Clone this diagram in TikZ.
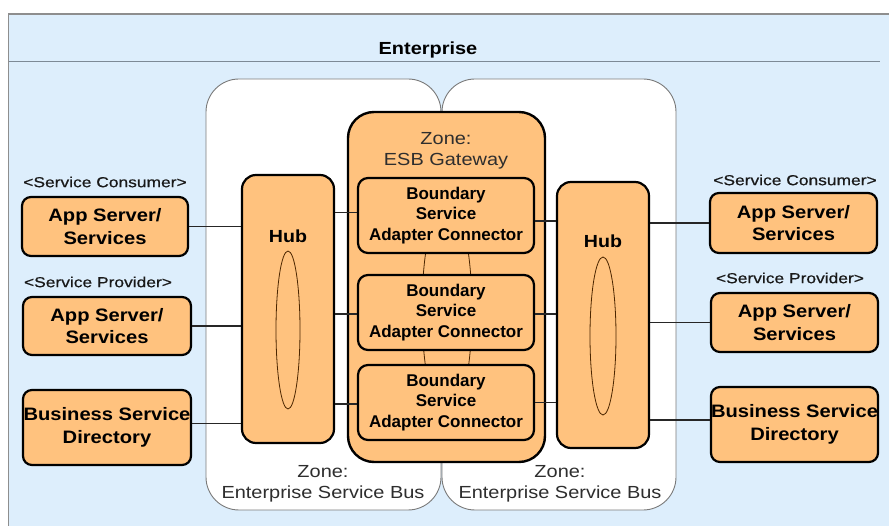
\documentclass[tikz,border=0pt]{standalone}
\usepackage{fontspec}
\setmainfont{Liberation Sans}
\newfontfamily\wfont{Liberation Sans}[FakeStretch=1.12]
\newfontfamily\wwfont{Liberation Sans}[FakeStretch=1.2,FakeBold=0.5]
\newfontfamily\zfont{Liberation Sans}[FakeStretch=1.14]
\definecolor{entblue}{HTML}{DDEEFC}
\definecolor{orfill}{HTML}{FFC27E}
\definecolor{framegrey}{HTML}{8E8E8E}
\definecolor{sepgrey}{HTML}{7D8A96}
\definecolor{zonegrey}{HTML}{7A7A7A}
\definecolor{txtgrey}{HTML}{2E2E2E}
\tikzset{
  orbox/.style={draw=black, line width=2.2pt, fill=orfill, rounded corners=9pt,
    align=center, inner sep=0pt, text=black,
    font={\wfont\bfseries\fontsize{18}{22.5}\selectfont}},
  bsbox/.style={orbox, rounded corners=10pt,
    font={\bfseries\fontsize{17}{20.5}\selectfont}},
  hubbox/.style={orbox, rounded corners=14pt},
  gatebox/.style={draw=black, line width=2.4pt, fill=orfill, rounded corners=26pt, inner sep=0pt},
  zonebox/.style={draw=zonegrey, line width=0.9pt, fill=white, rounded corners=33pt, inner sep=0pt},
  conn/.style={draw=black!85, line width=1.2pt},
  lane/.style={draw=black!70!orange, line width=0.8pt},
  tag/.style={inner sep=0pt, text=black!90, font={\wwfont\fontsize{14.5}{17}\selectfont}},
  zlabel/.style={inner sep=0pt, align=center, text=txtgrey, font={\zfont\fontsize{17.5}{21.5}\selectfont}},
  hublabel/.style={inner sep=0pt, text=black, font={\wfont\bfseries\fontsize{17.5}{20}\selectfont}}
}
\begin{document}
\begin{tikzpicture}[x=1pt,y=-1pt]
\useasboundingbox (0,0) rectangle (889,526);
\clip (0,0) rectangle (889,526);
% enterprise frame
\fill[white] (0,0) rectangle (889,526);
\draw[framegrey, line width=1pt, fill=entblue] (8.5,14) rectangle (900,540);
\draw[framegrey, line width=2pt] (8.5,14) -- (900,14);
\draw[sepgrey, line width=1pt] (8.5,62) -- (880,62);
\node[inner sep=0pt, text=black, font={\zfont\bfseries\fontsize{17.5}{20}\selectfont}] (ent) at (428,50) {Enterprise};
% zones
\node[zonebox, minimum width=235pt, minimum height=431pt] (zl) at (323.5,294.5) {};
\node[zonebox, minimum width=234pt, minimum height=431pt] (zr) at (559,294.5) {};
\node[zlabel] (zllab) at (323,484) {Zone:\\Enterprise Service Bus};
\node[zlabel] (zrlab) at (560,484) {Zone:\\Enterprise Service Bus};
% gateway
\node[gatebox, minimum width=197pt, minimum height=350pt] (gw) at (446.5,287) {};
\node[zlabel] (gwlab) at (446,151) {Zone:\\ESB Gateway};
\draw[lane] (447,310) ellipse [x radius=25, y radius=110];
\node[bsbox, minimum width=176pt, minimum height=75pt] (b1) at (446,215.5) {Boundary\\Service\\Adapter Connector};
\node[bsbox, minimum width=176pt, minimum height=75pt] (b2) at (446,312.5) {Boundary\\Service\\Adapter Connector};
\node[bsbox, minimum width=176pt, minimum height=75pt] (b3) at (446,402.5) {Boundary\\Service\\Adapter Connector};
% hubs
\node[hubbox, minimum width=92pt, minimum height=268pt] (lhub) at (288,309) {};
\node[hublabel] (lhublab) at (288,236) {Hub};
\draw[lane] (288,330) ellipse [x radius=12, y radius=79];
\node[hubbox, minimum width=92pt, minimum height=266pt] (rhub) at (603,315) {};
\node[hublabel] (rhublab) at (603,241) {Hub};
\draw[lane] (603,336) ellipse [x radius=13, y radius=79];
% left boxes
\node[tag] (lt1) at (105,182) {<Service Consumer>};
\node[orbox, minimum width=166pt, minimum height=59pt] (lb1) at (105,226.5) {App Server/\\Services};
\node[tag] (lt2) at (98,282) {<Service Provider>};
\node[orbox, minimum width=168pt, minimum height=58pt] (lb2) at (107,326) {App Server/\\Services};
\node[orbox, minimum width=168pt, minimum height=75pt] (lb3) at (107,427.5) {Business Service\\Directory};
% right boxes
\node[tag] (rt1) at (795,180) {<Service Consumer>};
\node[orbox, minimum width=167pt, minimum height=60pt] (rb1) at (793.5,223) {App Server/\\Services};
\node[tag] (rt2) at (790,278) {<Service Provider>};
\node[orbox, minimum width=167pt, minimum height=59pt] (rb2) at (794.5,322.5) {App Server/\\Services};
\node[orbox, minimum width=167pt, minimum height=75pt] (rb3) at (794.5,424.5) {Business Service\\Directory};
% connectors left
\draw[conn] (lb1.east) -- (lb1.east -| lhub.west);
\draw[conn] (lb2.east) -- (lb2.east -| lhub.west);
\draw[conn] ([yshift=4pt]lb3.east) -- ([yshift=4pt]lb3.east -| lhub.west);
\draw[conn] ([yshift=3pt]b1.west) -- ([yshift=3pt]b1.west -| lhub.east);
\draw[conn] ([yshift=-1.5pt]b2.west) -- ([yshift=-1.5pt]b2.west -| lhub.east);
\draw[conn] ([yshift=-1.5pt]b3.west) -- ([yshift=-1.5pt]b3.west -| lhub.east);
% connectors right
\draw[conn] ([yshift=-5.5pt]b1.east) -- ([yshift=-5.5pt]b1.east -| rhub.west);
\draw[conn] ([yshift=-1.5pt]b2.east) -- ([yshift=-1.5pt]b2.east -| rhub.west);
\draw[conn] (b3.east) -- (b3.east -| rhub.west);
\draw[conn] (rb1.west) -- (rb1.west -| rhub.east);
\draw[conn] (rb2.west) -- (rb2.west -| rhub.east);
\draw[conn] ([yshift=4.5pt]rb3.west) -- ([yshift=4.5pt]rb3.west -| rhub.east);
\end{tikzpicture}
\end{document}
